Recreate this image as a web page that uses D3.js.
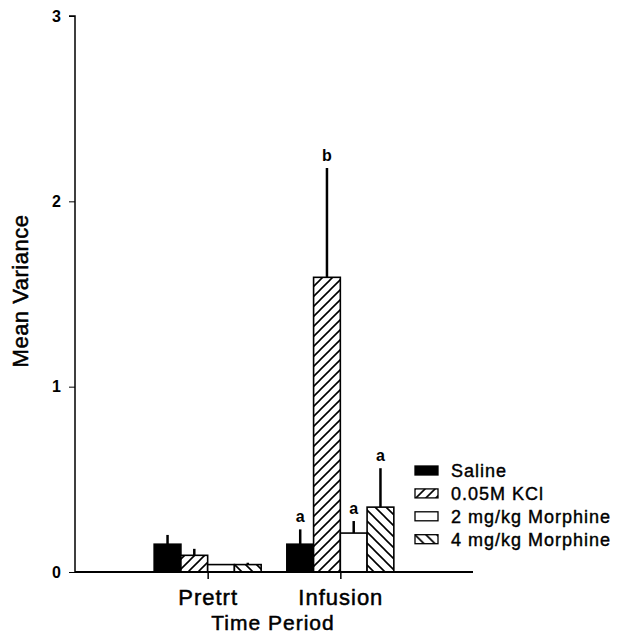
<!DOCTYPE html>
<html><head><meta charset="utf-8">
<script src="https://cdn.jsdelivr.net/npm/d3@7"></script>
<style>body{margin:0;background:#fff}svg{font-family:"Liberation Sans",Arial,sans-serif}</style>
</head><body>
<svg id="c" width="618" height="637"></svg>
<script>
const periods = ["Pretrt", "Infusion"];
const treatments = ["Saline", "0.05M KCl", "2 mg/kg Morphine", "4 mg/kg Morphine"];
const pretrtMeans = [0.15, 0.09, 0.04, 0.04];
const pretrtErrTops = [0.20, 0.125, 0.04, 0.05];
const infusionMeans = [0.15, 1.59, 0.21, 0.35];
const infusionErrTops = [0.23, 2.18, 0.275, 0.56];
const infusionLetters = ["a", "b", "a", "a"];
const yTicks = [0, 1, 2, 3];

const means = [pretrtMeans, infusionMeans];
const errTops = [pretrtErrTops, infusionErrTops];
const letters = [[], infusionLetters];

const svg = d3.select("#c");
const x0 = 75, x1 = 473, yb = 572, yt = 16;
const x = d3.scalePoint().domain(periods).range([x0, x1]).padding(1);
const xs = d3.scaleBand().domain(treatments).range([-53.5, 53.5]);
const y = d3.scaleLinear().domain([0, 3]).range([yb, yt]);

const defs = svg.append("defs");
function hatch(id, dir, sp) {
  const p = defs.append("pattern").attr("id", id).attr("patternUnits", "userSpaceOnUse")
    .attr("width", sp).attr("height", sp);
  p.append("rect").attr("width", sp).attr("height", sp).attr("fill", "#fff");
  const d = dir > 0
    ? `M0,${sp} L${sp},0 M${-sp/2},${sp/2} L${sp/2},${-sp/2} M${sp/2},${sp*1.5} L${sp*1.5},${sp/2}`
    : `M0,0 L${sp},${sp} M${-sp/2},${sp/2} L${sp/2},${sp*1.5} M${sp/2},${-sp/2} L${sp*1.5},${sp/2}`;
  p.append("path").attr("d", d).attr("stroke", "#000").attr("stroke-width", 1.6);
}
hatch("h1", 1, 10);
hatch("h2", -1, 11);
const fills = ["#000", "url(#h1)", "#fff", "url(#h2)"];

function heavy(sel, sw) {
  return sel.attr("fill", "#000").attr("stroke", "#000").attr("stroke-width", sw)
    .attr("font-family", "Liberation Sans, Arial, sans-serif");
}

// bars
periods.forEach((p, pi) => {
  const g = svg.append("g");
  treatments.forEach((t, ti) => {
    const bx = x(p) + xs(t);
    const cx = bx + xs.bandwidth() / 2;
    if (errTops[pi][ti] > means[pi][ti]) {
      g.append("line").attr("x1", cx).attr("x2", cx)
        .attr("y1", y(means[pi][ti])).attr("y2", y(errTops[pi][ti]))
        .attr("stroke", "#000").attr("stroke-width", 2.5);
    }
    g.append("rect").attr("x", bx).attr("width", xs.bandwidth())
      .attr("y", y(means[pi][ti])).attr("height", y(0) - y(means[pi][ti]))
      .attr("fill", fills[ti]).attr("stroke", "#000").attr("stroke-width", 1.6);
    if (letters[pi][ti]) {
      g.append("text").attr("x", cx).attr("y", y(errTops[pi][ti]) - 7)
        .attr("text-anchor", "middle").attr("font-size", 16).attr("font-weight", "bold")
        .text(letters[pi][ti]);
    }
  });
});

// y axis
const ya = svg.append("g").attr("transform", `translate(${x0},0)`)
  .call(d3.axisLeft(y).tickValues(yTicks).tickFormat(d3.format("d")).tickSize(6).tickPadding(8));
ya.select(".domain").attr("stroke-width", 1.5).attr("d", `M-6,${yt}H0V${yb}`);
ya.selectAll("text").attr("font-size", 16).attr("font-weight", "bold")
  .attr("font-family", "Liberation Sans, Arial, sans-serif");

// x axis
const xa = svg.append("g").attr("transform", `translate(0,${yb})`)
  .call(d3.axisBottom(x).tickSize(7).tickPadding(0));
xa.select(".domain").attr("stroke-width", 1.8).attr("d", `M${x0},0H${x1}`);
xa.selectAll("line").attr("stroke-width", 1.5);
xa.selectAll("text").attr("dy", null).attr("y", 33).attr("font-size", 22)
  .attr("letter-spacing", 1);
heavy(xa.selectAll("text"), 0.5);

// titles
heavy(svg.append("text").attr("x", (x(periods[0]) + x(periods[1])) / 2 - 1).attr("y", 630)
  .attr("text-anchor", "middle").attr("font-size", 21).attr("letter-spacing", 1)
  .text("Time Period"), 0.5);
heavy(svg.append("text").attr("transform", `translate(28,${291}) rotate(-90)`)
  .attr("text-anchor", "middle").attr("font-size", 22).attr("letter-spacing", 0.5)
  .text("Mean Variance"), 0.5);

// legend
const lg = svg.append("g").attr("transform", "translate(415,466)");
treatments.forEach((t, i) => {
  const r = lg.append("g").attr("transform", `translate(0,${i * 22.9})`);
  r.append("rect").attr("x", 0).attr("y", 0).attr("width", 23).attr("height", 9)
    .attr("fill", fills[i]).attr("stroke", "#000").attr("stroke-width", 1.3);
  heavy(r.append("text").attr("x", 36).attr("y", 11).attr("font-size", 18)
    .attr("letter-spacing", 1).text(t), 0.4);
});
</script>
</body></html>
